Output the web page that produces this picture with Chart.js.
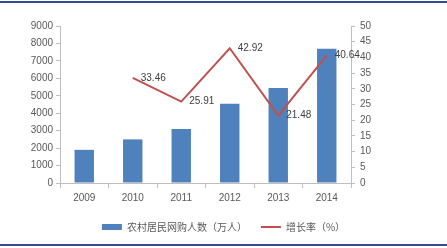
<!DOCTYPE html>
<html>
<head>
<meta charset="utf-8">
<script src="https://cdn.jsdelivr.net/npm/chart.js@4"></script>
<style>
  body { margin: 0; background: #fff; }
  #wrap { position: relative; width: 447px; height: 248px; }
  .rule { position: absolute; left: 0; width: 447px; height: 2px; background: #2f4b99; }
</style>
</head>
<body>
<div id="wrap">
  <canvas id="myChart" width="447" height="248"></canvas>
  <div class="rule" style="top:1px"></div>
  <div class="rule" style="top:244px"></div>
</div>
<script>
const years = ['2009', '2010', '2011', '2012', '2013', '2014'];
const buyers = [1900, 2500, 3100, 4550, 5450, 7700];      // 农村居民网购人数（万人）
const growth = [null, 33.46, 25.91, 42.92, 21.48, 40.64];  // 增长率（%）
const leftTicks = [0, 1000, 2000, 3000, 4000, 5000, 6000, 7000, 8000, 9000];
const rightTicks = [0, 5, 10, 15, 20, 25, 30, 35, 40, 45, 50];

const AXIS = '#bfbfbf';
const TXT = '#595959';
const tickFont = { family: 'Liberation Sans', size: 10 };

// write the growth values beside the points
const pointLabels = {
    id: 'pointLabels',
    afterDatasetsDraw(chart) {
        const ctx = chart.ctx;
        const meta = chart.getDatasetMeta(0);
        ctx.save();
        ctx.font = '10px "Liberation Sans"';
        ctx.fillStyle = '#404040';
        ctx.textBaseline = 'middle';
        ctx.textAlign = 'left';
        meta.data.forEach((pt, i) => {
            if (growth[i] == null) return;
            ctx.fillText(growth[i].toFixed(2), pt.x + 8, pt.y);
        });
        ctx.restore();
    }
};

const CTX = document.getElementById('myChart').getContext('2d');
const myChart = new Chart(CTX, {
    type: 'bar',
    data: {
        labels: years,
        datasets: [{
            type: 'line',
            label: '增长率（%）',
            data: growth,
            borderColor: '#c0504d',
            backgroundColor: '#c0504d',
            borderWidth: 2,
            pointRadius: 0,
            pointStyle: 'line',
            tension: 0,
            yAxisID: 'y1',
            order: 1
        }, {
            label: '农村居民网购人数（万人）',
            data: buyers,
            backgroundColor: '#4f81bd',
            borderWidth: 0,
            pointStyle: 'rect',
            categoryPercentage: 1,
            barPercentage: 0.4,
            yAxisID: 'y',
            order: 2
        }]
    },
    options: {
        responsive: false,
        animation: false,
        layout: { padding: { top: 26, left: 0, right: 0, bottom: 6 } },
        plugins: {
            tooltip: { enabled: false },
            legend: {
                position: 'bottom',
                reverse: true,
                labels: {
                    usePointStyle: true,
                    pointStyleWidth: 20,
                    boxHeight: 6,
                    padding: 14,
                    color: TXT,
                    font: { family: '"Noto Sans CJK SC"', size: 10 }
                }
            }
        },
        scales: {
            x: {
                offset: true,
                grid: { offset: true, drawOnChartArea: false, tickLength: 5, color: AXIS },
                border: { color: AXIS },
                ticks: { color: TXT, font: tickFont, padding: 4 }
            },
            y: {
                position: 'left',
                min: 0,
                max: 9000,
                afterBuildTicks: s => { s.ticks = leftTicks.map(v => ({ value: v })); },
                afterFit: s => { s.width = 60; },
                grid: { drawOnChartArea: false, tickLength: 4, color: AXIS },
                border: { color: AXIS },
                ticks: { color: TXT, font: tickFont, padding: 3, callback: v => String(v) }
            },
            y1: {
                position: 'right',
                min: 0,
                max: 50,
                afterBuildTicks: s => { s.ticks = rightTicks.map(v => ({ value: v })); },
                afterFit: s => { s.width = 96; },
                grid: { drawOnChartArea: false, tickLength: 4, color: AXIS },
                border: { color: AXIS },
                ticks: { color: TXT, font: tickFont, padding: 5, callback: v => String(v) }
            }
        }
    },
    plugins: [pointLabels]
});
</script>
</body>
</html>
